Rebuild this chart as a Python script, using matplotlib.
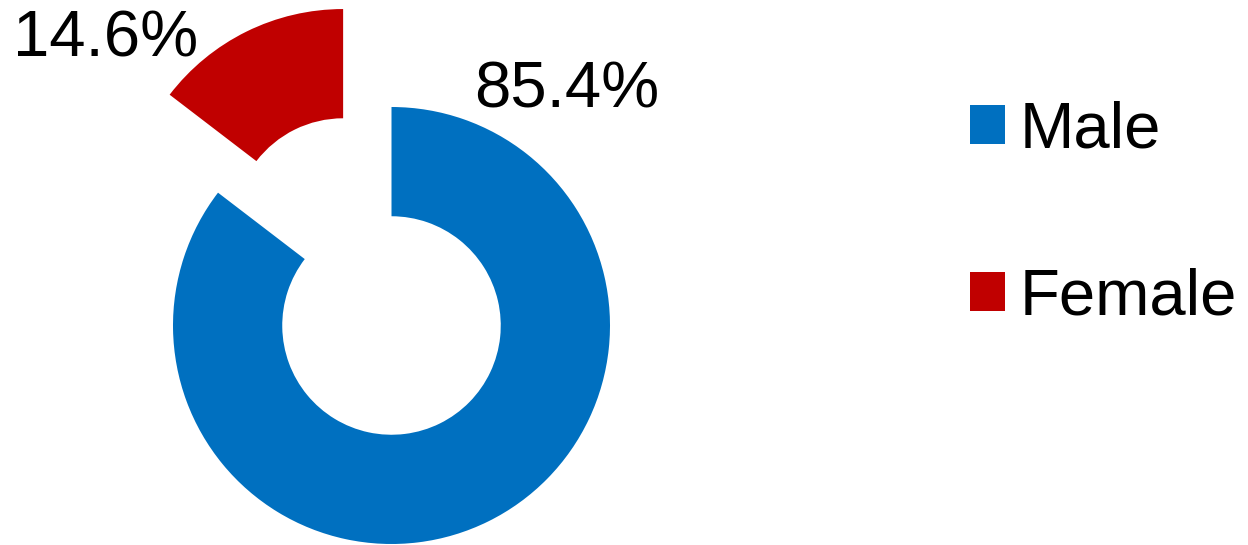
import matplotlib.pyplot as plt

plt.rcParams['font.family'] = ['Liberation Sans', 'DejaVu Sans']

# gender split
labels = ['Male', 'Female']
shares = [85.4, 14.6]
colors = ['#0070C0', '#C00000']
explode = [0, 0.5]

fig = plt.figure(figsize=(12.48, 5.45), dpi=100)
ax = fig.add_axes([0, 0, 1, 1])

wedges, _ = ax.pie(
    shares,
    colors=colors,
    explode=explode,
    startangle=90,
    counterclock=False,
    radius=1,
    wedgeprops=dict(width=0.5, linewidth=0),
)

# percentage labels placed off the ring
label_pos = [(0.80, 1.075), (-1.31, 1.31)]
for share, (x, y) in zip(shares, label_pos):
    ax.text(x, y, f'{share}%', fontsize=47, ha='center', va='center')

ax.set_xlim(-391.5 / 218.5, (1248 - 391.5) / 218.5)
ax.set_ylim(-219.5 / 218.5, (545 - 219.5) / 218.5)
ax.set_aspect('auto')
ax.axis('off')

ax.legend(
    wedges, labels,
    loc='center left',
    bbox_to_anchor=(970 / 1248, (545 - 214) / 545),
    bbox_transform=fig.transFigure,
    frameon=False,
    fontsize=47,
    handlelength=0.54,
    handleheight=0.54,
    handletextpad=0.22,
    labelspacing=1.63,
    borderpad=0,
    borderaxespad=0,
)

plt.savefig('out.png', dpi=100)
plt.close()
